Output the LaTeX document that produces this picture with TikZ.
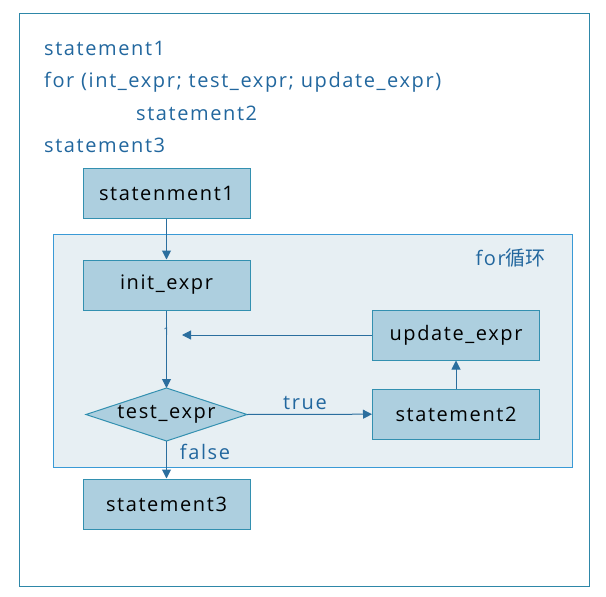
\documentclass[tikz,border=0pt]{standalone}
\usepackage{fontspec}
\setmainfont[LetterSpace=8]{Open Sans}
\newfontfamily\cjk{Noto Sans CJK SC}
\usetikzlibrary{arrows.meta}
\definecolor{boxfill}{HTML}{ADCFDF}
\definecolor{boxline}{HTML}{3390B0}
\definecolor{loopfill}{HTML}{E7EFF3}
\definecolor{loopline}{HTML}{3A9AD6}
\definecolor{frameline}{HTML}{2E87A8}
\definecolor{arrowc}{HTML}{2B6E9E}
\definecolor{textc}{HTML}{22679E}
\begin{document}
\begin{tikzpicture}[x=1pt,y=-1pt,
  font=\fontsize{20}{23}\selectfont,
  blk/.style={draw=boxline, fill=boxfill, line width=1pt, minimum width=167pt, minimum height=50pt, inner sep=0pt, text=black},
  arr/.style={draw=arrowc, line width=1pt, -{Triangle[length=9pt,width=9pt]}},
  code/.style={anchor=base west, text=textc, inner sep=0pt},
  lbl/.style={text=textc, inner sep=0pt}]
\useasboundingbox (0,0) rectangle (606,597);
\draw[frameline, line width=1pt] (19,13) rectangle (589,586);
\node[code] (c1) at (44,55) {statement1};
\node[code] (c2) at (44,87) {for (int\_expr; test\_expr; update\_expr)};
\node[code] (c3) at (136,120) {statement2};
\node[code] (c4) at (44,152) {statement3};
\node[draw=loopline, fill=loopfill, line width=1pt, minimum width=519pt, minimum height=233pt, inner sep=0pt] (loop) at (312.5,350.5) {};
\node[lbl, anchor=east] (looplbl) at (546,258) {for{\cjk 循环}};
\node[blk] (s1) at (166.5,193) {statenment1};
\node[blk] (init) at (166.5,285) {init\_expr};
\node[blk] (upd) at (456,335) {update\_expr};
\node[blk] (st2) at (456,414) {statement2};
\node[blk] (s3) at (166.5,504) {statement3};
\coordinate (dT) at (166.5,388);
\coordinate (dB) at (166.5,441);
\coordinate (dL) at (86,414.5);
\coordinate (dR) at (247,414.5);
\draw[draw=boxline, fill=boxfill, line width=1pt] (dL) -- (dT) -- (dR) -- (dB) -- cycle;
\node[inner sep=0pt] (test) at (166.5,414.5) {test\_expr};
\coordinate (join) at (182,335);
\draw[arr] (s1) -- (init);
\draw[arr] (init) -- (dT);
\node[text=arrowc, inner sep=0pt, font=\fontsize{11}{12}\selectfont] (one) at (166.5,332) {1};
\draw[arr] (dR) -- (st2);
\node[lbl] (true) at (305,403) {true};
\draw[arr] (st2) -- (upd);
\draw[arr] (upd) -- (join);
\draw[arr] (dB) -- (s3);
\node[lbl] (false) at (205,452) {false};
\end{tikzpicture}
\end{document}
